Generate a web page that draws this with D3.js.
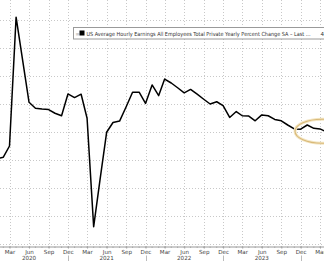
<!DOCTYPE html>
<html><head><meta charset="utf-8">
<script src="https://cdn.jsdelivr.net/npm/d3@7"></script>
<style>
html,body{margin:0;padding:0;background:#fff;overflow:hidden}
svg{display:block}
</style></head>
<body>
<svg id="c" width="324" height="261"></svg>
<script>
// Monthly observations, Jan 2020 .. Apr 2024 (YoY %)
const startMonth = [2020, 0];
const values = [3.05,3.1,3.5,8.1,6.6,5.06,4.85,4.82,4.8,4.67,4.58,5.36,
  5.23,5.35,4.49,0.62,2.3,3.99,4.34,4.39,4.9,5.42,5.42,5.02,
  5.68,5.3,5.89,5.75,5.58,5.4,5.52,5.35,5.17,5.0,5.08,4.94,
  4.52,4.73,4.58,4.57,4.4,4.61,4.58,4.45,4.4,4.25,4.11,4.1,
  4.25,4.13,4.11,4.0];
const yTicks = [0,1,2,3,4,5,6,7,8];
const yearLabels = ["2020","2021","2022","2023"];
const legendText = "US Average Hourly Earnings All Employees Total Private Yearly Percent Change SA \u2013 Last ...";
const legendValue = "4.1";

const svg = d3.select("#c");
const W = 324, H = 261;
const x = d3.scaleTime().domain([new Date(2020,2,1), new Date(2024,2,1)]).range([9.5, 320]);
const y = d3.scaleLinear().domain([0,8]).range([244,20]);
const axisY = 246.5;

const data = values.map((v,i)=>({d:new Date(startMonth[0], startMonth[1]+i, 1), v}));

// grid
const qTicks = d3.timeMonth.range(new Date(2020,2,1), new Date(2024,5,1), 3);
svg.append("g").selectAll("line").data(qTicks).join("line")
  .attr("x1",d=>Math.round(x(d))+0.5).attr("x2",d=>Math.round(x(d))+0.5)
  .attr("y1",0).attr("y2",axisY)
  .attr("stroke","#c8c8c8").attr("stroke-width",1).attr("stroke-dasharray","1,2");
svg.append("g").selectAll("line").data(yTicks).join("line")
  .attr("x1",0).attr("x2",W)
  .attr("y1",d=>Math.round(y(d))+0.5).attr("y2",d=>Math.round(y(d))+0.5)
  .attr("stroke","#c8c8c8").attr("stroke-width",1).attr("stroke-dasharray","1,2");

// x axis
const xAxis = d3.axisBottom(x).tickValues(qTicks).tickFormat(d3.timeFormat("%b")).tickSize(2).tickPadding(2);
const gx = svg.append("g").attr("transform",`translate(0,${axisY})`).call(xAxis);
gx.select(".domain").attr("stroke","#999").attr("d",`M0,0.5H${W}`);
gx.selectAll(".tick line").attr("stroke","#999");
gx.selectAll("text").attr("fill","#444").style("font-family","DejaVu Sans, sans-serif").style("font-size","5.6px");
// monthly minor ticks
svg.append("g").selectAll("line").data(d3.timeMonth.range(new Date(2019,11,1), new Date(2024,5,1)))
  .join("line").attr("x1",d=>x(d)).attr("x2",d=>x(d)).attr("y1",axisY).attr("y2",axisY+1.5)
  .attr("stroke","#aaa");
// year separators at Dec
svg.append("g").selectAll("line").data([new Date(2020,11,1),new Date(2021,11,1),new Date(2022,11,1),new Date(2023,11,1)])
  .join("line").attr("x1",d=>Math.round(x(d))+0.5).attr("x2",d=>Math.round(x(d))+0.5)
  .attr("y1",axisY+9).attr("y2",H).attr("stroke","#bbb");
// year labels under Jun
svg.append("g").selectAll("text").data(yearLabels).join("text")
  .attr("x",d=>x(new Date(+d,5,1))).attr("y",259.5).attr("text-anchor","middle")
  .attr("fill","#444").style("font-family","DejaVu Sans, sans-serif").style("font-size","5.6px").text(d=>d);

// line
const line = d3.line().x(d=>x(d.d)).y(d=>y(d.v));
svg.append("path").datum(data).attr("d",line).attr("fill","none")
  .attr("stroke","#000").attr("stroke-width",1.5).attr("stroke-linejoin","round");

// highlight ellipse
svg.append("ellipse").attr("cx",x(new Date(2024,2,1))+2).attr("cy",y(4.1)+2).attr("rx",27).attr("ry",12)
  .attr("fill","none").attr("stroke","#f3e6c4").attr("stroke-width",3);
svg.append("ellipse").attr("cx",x(new Date(2024,2,1))+2).attr("cy",y(4.1)+2).attr("rx",27).attr("ry",12)
  .attr("fill","none").attr("stroke","#d9b978").attr("stroke-width",1.1);

// legend
const lg = svg.append("g");
lg.append("rect").attr("x",73.5).attr("y",27.5).attr("width",260).attr("height",11.5)
  .attr("fill","#fff").attr("stroke","#9a9a9a");
lg.append("text").attr("x",75.5).attr("y",35.5).attr("fill","#aaa")
  .style("font-family","DejaVu Sans, sans-serif").style("font-size","5px").text("\u2261");
lg.append("rect").attr("x",79.5).attr("y",30.5).attr("width",5).attr("height",5).attr("fill","#000");
const lt = lg.append("text").attr("x",86.5).attr("y",35.6).attr("fill","#333")
  .style("font-family","DejaVu Sans, sans-serif").style("font-size","5.6px").text(legendText);
lt.attr("textLength",224).attr("lengthAdjust","spacingAndGlyphs");
lg.append("text").attr("x",320.5).attr("y",35.6).attr("fill","#333")
  .style("font-family","DejaVu Sans, sans-serif").style("font-size","5.6px").text(legendValue);
</script>
</body></html>
